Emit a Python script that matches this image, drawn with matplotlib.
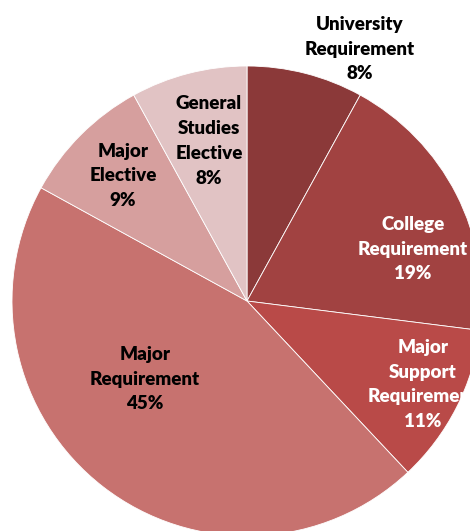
import matplotlib.pyplot as plt

plt.rcParams['font.family'] = ['Lato', 'DejaVu Sans']

categories = ['University\nRequirement', 'College\nRequirement', 'Major\nSupport\nRequirement',
              'Major\nRequirement', 'Major\nElective', 'General\nStudies\nElective']
shares = [8, 19, 11, 45, 9, 8]

colors = ['#8b3939', '#a14241', '#b94a48', '#c7726f', '#d69f9e', '#e1c3c4']
text_colors = ['black', 'white', 'white', 'black', 'black', 'black']
# label centres in data units (pie radius = 1)
label_pos = [(0.481, 1.072), (0.706, 0.221), (0.749, -0.355),
             (-0.434, -0.332), (-0.528, 0.532), (-0.162, 0.681)]

W, H = 470, 531
cx, cy, R = 247, 301, 235

fig = plt.figure(figsize=(W / 100, H / 100), dpi=100)
ax = fig.add_axes([0, 0, 1, 1])
ax.pie(shares, colors=colors, startangle=90, counterclock=False, radius=1,
       wedgeprops=dict(edgecolor='white', linewidth=0.6))

for cat, val, (x, y), tc in zip(categories, shares, label_pos, text_colors):
    ax.text(x, y, f'{cat}\n{val}%', ha='center', va='center', color=tc,
            fontsize=13.5, fontweight='heavy', linespacing=1.55)

ax.set_xlim(-cx / R, (W - cx) / R)
ax.set_ylim(-(H - cy) / R, cy / R)
ax.set_aspect('equal')
ax.axis('off')

fig.savefig('out.png', dpi=100)
